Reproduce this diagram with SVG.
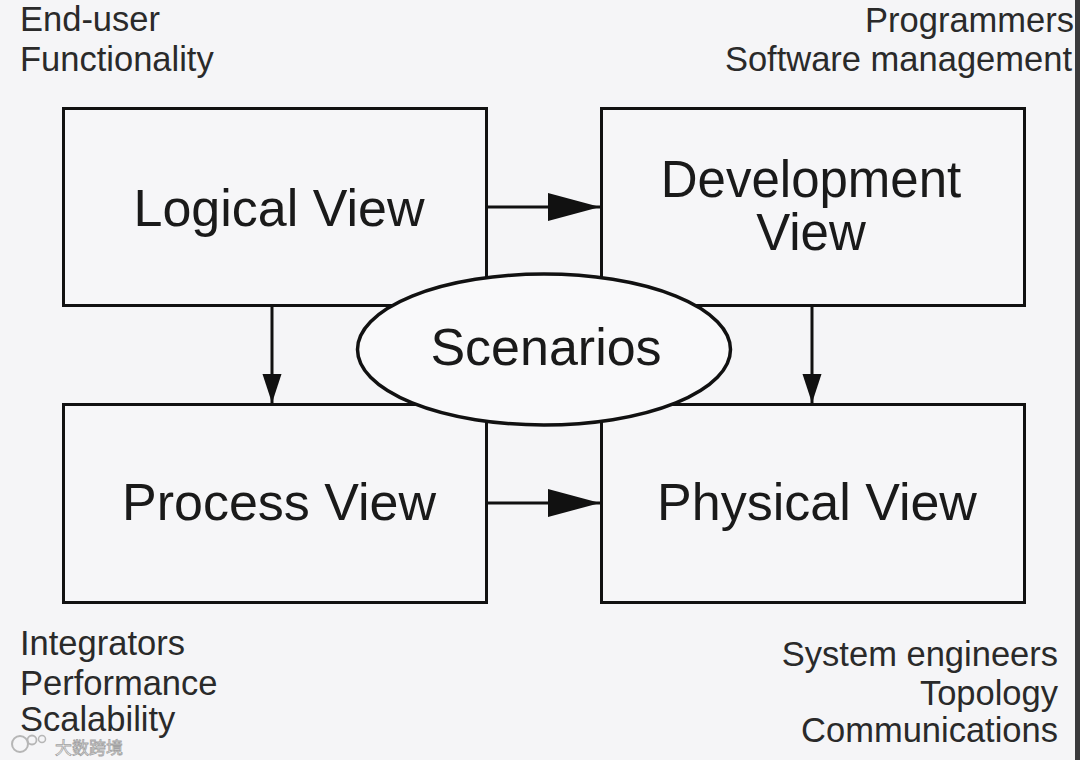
<svg xmlns="http://www.w3.org/2000/svg" width="1080" height="760" viewBox="0 0 1080 760">
<style>
.box{fill:#f6f6f8;stroke:#111;stroke-width:3}
.lbl{font-family:"Liberation Sans",Arial,sans-serif;font-size:52px;fill:#1a1a1a;text-anchor:middle}
.note{font-family:"Liberation Sans",Arial,sans-serif;font-size:34.5px;fill:#2a2a2a}
.r{text-anchor:end}
.conn{stroke:#111;stroke-width:3;fill:none}
.wm{font-family:"Noto Sans CJK SC","Liberation Sans",sans-serif;font-size:17px;fill:#fbfbfb;stroke:#9a9a9a;stroke-width:0.8}
</style>
<defs>
<marker id="ah" markerWidth="54" markerHeight="30" refX="53" refY="15" orient="auto" markerUnits="userSpaceOnUse">
<path d="M1,1 L53,15 L1,29 Z" fill="#111"/>
</marker>
<marker id="av" markerWidth="31" markerHeight="21" refX="30" refY="10.5" orient="auto" markerUnits="userSpaceOnUse">
<path d="M1,1 L30,10.5 L1,20 Z" fill="#111"/>
</marker>
</defs>
<rect width="1080" height="760" fill="#f5f5f7"/>
<rect x="1075" y="0" width="5" height="760" fill="#3a3a3c"/>

<g id="corner-notes">
<text class="note" x="20" y="31">End-user</text>
<text class="note" x="20" y="71">Functionality</text>
<text class="note r" x="1074" y="32">Programmers</text>
<text class="note r" x="1072" y="71">Software management</text>
<text class="note" x="20" y="655">Integrators</text>
<text class="note" x="20" y="695">Performance</text>
<text class="note" x="20" y="731">Scalability</text>
<text class="note r" x="1058" y="666">System engineers</text>
<text class="note r" x="1058" y="705">Topology</text>
<text class="note r" x="1058" y="742">Communications</text>
</g>

<g id="connectors">
<line class="conn" x1="487" y1="207" x2="600" y2="207" marker-end="url(#ah)"/>
<line class="conn" x1="487" y1="503" x2="600" y2="503" marker-end="url(#ah)"/>
<line class="conn" x1="272" y1="305" x2="272" y2="403" marker-end="url(#av)"/>
<line class="conn" x1="812" y1="305" x2="812" y2="403" marker-end="url(#av)"/>
</g>

<g id="logical-view">
<rect class="box" x="63.5" y="108.5" width="423" height="197"/>
<text class="lbl" x="279" y="226">Logical View</text>
</g>
<g id="development-view">
<rect class="box" x="601.5" y="108.5" width="423" height="197"/>
<text class="lbl" x="811" y="197" style="font-size:51px">Development</text>
<text class="lbl" x="811" y="250" style="font-size:51px">View</text>
</g>
<g id="process-view">
<rect class="box" x="63.5" y="404.5" width="423" height="198"/>
<text class="lbl" x="279" y="520">Process View</text>
</g>
<g id="physical-view">
<rect class="box" x="601.5" y="404.5" width="423" height="198"/>
<text class="lbl" x="817" y="520">Physical View</text>
</g>
<g id="scenarios">
<ellipse cx="544" cy="349.5" rx="186.5" ry="75.5" fill="#f9f9fa" stroke="#111" stroke-width="3.5"/>
<text class="lbl" x="546" y="365">Scenarios</text>
</g>

<g id="watermark" opacity="0.9">
<circle cx="20" cy="744" r="8" fill="none" stroke="#b0b0b0" stroke-width="2"/>
<circle cx="32" cy="740" r="4.5" fill="none" stroke="#b0b0b0" stroke-width="1.8"/>
<circle cx="42" cy="739" r="3.5" fill="none" stroke="#b0b0b0" stroke-width="1.5"/>
<text class="wm" x="55" y="754">大数跨境</text>
</g>
</svg>
